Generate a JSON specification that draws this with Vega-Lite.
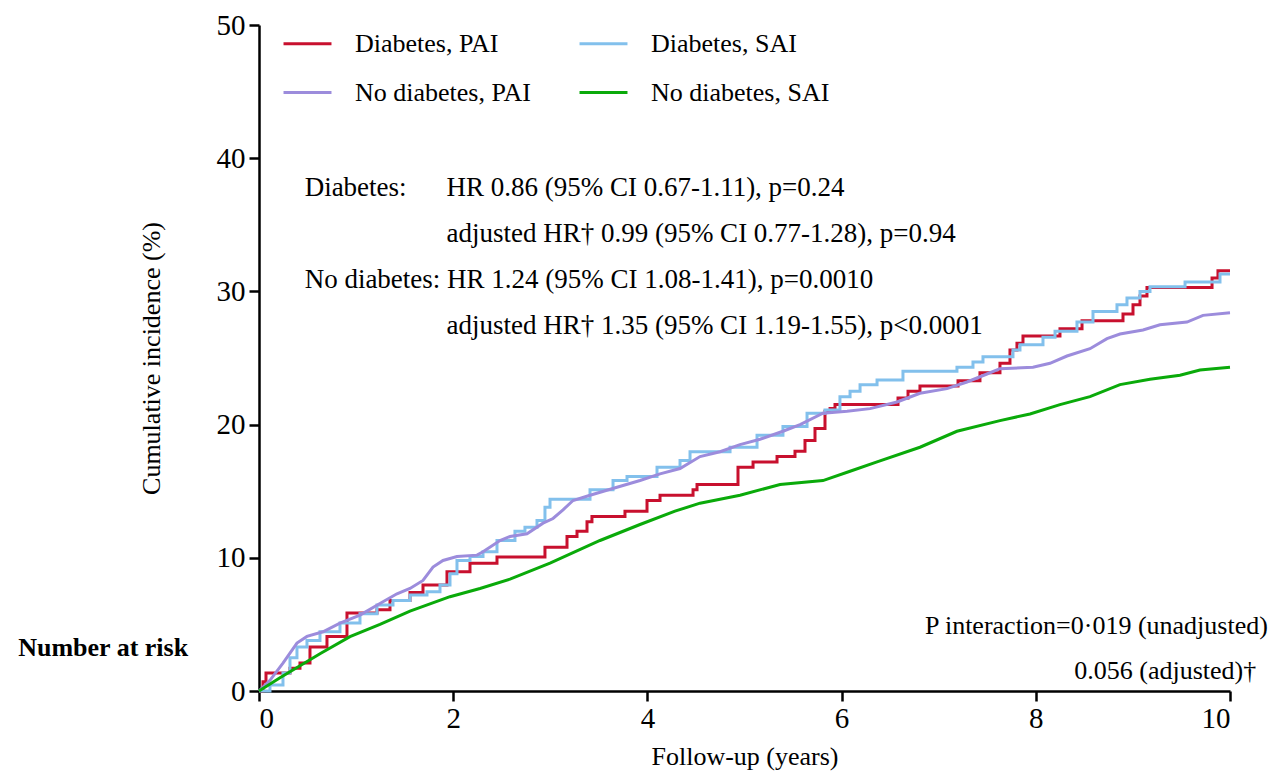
{
  "$schema": "https://vega.github.io/schema/vega-lite/v6.json",
  "width": 971,
  "height": 666,
  "autosize": "none",
  "padding": {"left": 259, "top": 25, "right": 42, "bottom": 81},
  "background": "white",
  "config": {
    "view": {"stroke": null},
    "font": "Liberation Serif",
    "text": {"font": "Liberation Serif"},
    "legend": {"labelFont": "Liberation Serif"},
    "axis": {"grid": false, "domainColor": "black", "tickColor": "black", "labelColor": "black", "titleColor": "black", "labelFont": "Liberation Serif", "titleFont": "Liberation Serif", "domainWidth": 2.5, "tickWidth": 2.5, "tickSize": 10, "labelFontSize": 29, "titleFontSize": 26, "titleFontWeight": "normal"}
  },
  "datasets": {
    "curves": [
      {"g": "Diabetes, PAI", "t": 0, "v": 0}, {"g": "Diabetes, PAI", "t": 0.041, "v": 0.7}, {"g": "Diabetes, PAI", "t": 0.072, "v": 1.35}, {"g": "Diabetes, PAI", "t": 0.319, "v": 1.7}, {"g": "Diabetes, PAI", "t": 0.422, "v": 2.1}, {"g": "Diabetes, PAI", "t": 0.525, "v": 3.3}, {"g": "Diabetes, PAI", "t": 0.7, "v": 4.1}, {"g": "Diabetes, PAI", "t": 0.906, "v": 5.85}, {"g": "Diabetes, PAI", "t": 1.215, "v": 6.1}, {"g": "Diabetes, PAI", "t": 1.349, "v": 6.8}, {"g": "Diabetes, PAI", "t": 1.555, "v": 7.4}, {"g": "Diabetes, PAI", "t": 1.689, "v": 7.96}, {"g": "Diabetes, PAI", "t": 1.936, "v": 8.96}, {"g": "Diabetes, PAI", "t": 2.173, "v": 9.6}, {"g": "Diabetes, PAI", "t": 2.451, "v": 10.06}, {"g": "Diabetes, PAI", "t": 2.945, "v": 10.8}, {"g": "Diabetes, PAI", "t": 3.172, "v": 11.6}, {"g": "Diabetes, PAI", "t": 3.275, "v": 12.0}, {"g": "Diabetes, PAI", "t": 3.378, "v": 12.7}, {"g": "Diabetes, PAI", "t": 3.429, "v": 13.1}, {"g": "Diabetes, PAI", "t": 3.769, "v": 13.5}, {"g": "Diabetes, PAI", "t": 3.996, "v": 14.3}, {"g": "Diabetes, PAI", "t": 4.13, "v": 14.7}, {"g": "Diabetes, PAI", "t": 4.47, "v": 15.1}, {"g": "Diabetes, PAI", "t": 4.511, "v": 15.5}, {"g": "Diabetes, PAI", "t": 4.933, "v": 16.8}, {"g": "Diabetes, PAI", "t": 5.088, "v": 17.2}, {"g": "Diabetes, PAI", "t": 5.335, "v": 17.6}, {"g": "Diabetes, PAI", "t": 5.52, "v": 18.0}, {"g": "Diabetes, PAI", "t": 5.623, "v": 18.8}, {"g": "Diabetes, PAI", "t": 5.726, "v": 19.7}, {"g": "Diabetes, PAI", "t": 5.829, "v": 21.0}, {"g": "Diabetes, PAI", "t": 5.881, "v": 21.2}, {"g": "Diabetes, PAI", "t": 5.932, "v": 21.5}, {"g": "Diabetes, PAI", "t": 6.581, "v": 22.0}, {"g": "Diabetes, PAI", "t": 6.684, "v": 22.5}, {"g": "Diabetes, PAI", "t": 6.807, "v": 22.9}, {"g": "Diabetes, PAI", "t": 7.199, "v": 23.3}, {"g": "Diabetes, PAI", "t": 7.425, "v": 23.9}, {"g": "Diabetes, PAI", "t": 7.631, "v": 24.6}, {"g": "Diabetes, PAI", "t": 7.734, "v": 25.6}, {"g": "Diabetes, PAI", "t": 7.806, "v": 26.1}, {"g": "Diabetes, PAI", "t": 7.868, "v": 26.65}, {"g": "Diabetes, PAI", "t": 8.249, "v": 27.2}, {"g": "Diabetes, PAI", "t": 8.476, "v": 27.8}, {"g": "Diabetes, PAI", "t": 8.898, "v": 28.3}, {"g": "Diabetes, PAI", "t": 9.001, "v": 29.0}, {"g": "Diabetes, PAI", "t": 9.073, "v": 29.65}, {"g": "Diabetes, PAI", "t": 9.145, "v": 30.3}, {"g": "Diabetes, PAI", "t": 9.815, "v": 31.0}, {"g": "Diabetes, PAI", "t": 9.876, "v": 31.55}, {"g": "Diabetes, PAI", "t": 10.0, "v": 31.55},

      {"g": "Diabetes, SAI", "t": 0, "v": 0}, {"g": "Diabetes, SAI", "t": 0.113, "v": 0.45}, {"g": "Diabetes, SAI", "t": 0.247, "v": 1.35}, {"g": "Diabetes, SAI", "t": 0.319, "v": 2.5}, {"g": "Diabetes, SAI", "t": 0.391, "v": 3.3}, {"g": "Diabetes, SAI", "t": 0.494, "v": 3.8}, {"g": "Diabetes, SAI", "t": 0.628, "v": 4.45}, {"g": "Diabetes, SAI", "t": 0.834, "v": 5.1}, {"g": "Diabetes, SAI", "t": 1.04, "v": 5.8}, {"g": "Diabetes, SAI", "t": 1.215, "v": 6.45}, {"g": "Diabetes, SAI", "t": 1.38, "v": 6.8}, {"g": "Diabetes, SAI", "t": 1.555, "v": 7.2}, {"g": "Diabetes, SAI", "t": 1.73, "v": 7.45}, {"g": "Diabetes, SAI", "t": 1.864, "v": 7.96}, {"g": "Diabetes, SAI", "t": 1.967, "v": 8.8}, {"g": "Diabetes, SAI", "t": 2.039, "v": 9.8}, {"g": "Diabetes, SAI", "t": 2.173, "v": 10.1}, {"g": "Diabetes, SAI", "t": 2.307, "v": 10.45}, {"g": "Diabetes, SAI", "t": 2.451, "v": 11.3}, {"g": "Diabetes, SAI", "t": 2.636, "v": 12.0}, {"g": "Diabetes, SAI", "t": 2.739, "v": 12.3}, {"g": "Diabetes, SAI", "t": 2.863, "v": 12.8}, {"g": "Diabetes, SAI", "t": 2.945, "v": 13.8}, {"g": "Diabetes, SAI", "t": 2.997, "v": 14.4}, {"g": "Diabetes, SAI", "t": 3.409, "v": 15.1}, {"g": "Diabetes, SAI", "t": 3.646, "v": 15.8}, {"g": "Diabetes, SAI", "t": 3.79, "v": 16.1}, {"g": "Diabetes, SAI", "t": 4.099, "v": 16.8}, {"g": "Diabetes, SAI", "t": 4.336, "v": 17.3}, {"g": "Diabetes, SAI", "t": 4.439, "v": 17.96}, {"g": "Diabetes, SAI", "t": 4.851, "v": 18.3}, {"g": "Diabetes, SAI", "t": 5.129, "v": 19.2}, {"g": "Diabetes, SAI", "t": 5.396, "v": 19.85}, {"g": "Diabetes, SAI", "t": 5.644, "v": 20.85}, {"g": "Diabetes, SAI", "t": 5.829, "v": 21.1}, {"g": "Diabetes, SAI", "t": 5.983, "v": 22.1}, {"g": "Diabetes, SAI", "t": 6.087, "v": 22.5}, {"g": "Diabetes, SAI", "t": 6.19, "v": 23.0}, {"g": "Diabetes, SAI", "t": 6.365, "v": 23.35}, {"g": "Diabetes, SAI", "t": 6.632, "v": 24.0}, {"g": "Diabetes, SAI", "t": 7.188, "v": 24.3}, {"g": "Diabetes, SAI", "t": 7.353, "v": 24.7}, {"g": "Diabetes, SAI", "t": 7.456, "v": 25.1}, {"g": "Diabetes, SAI", "t": 7.765, "v": 25.6}, {"g": "Diabetes, SAI", "t": 7.837, "v": 26.0}, {"g": "Diabetes, SAI", "t": 8.074, "v": 26.55}, {"g": "Diabetes, SAI", "t": 8.198, "v": 27.0}, {"g": "Diabetes, SAI", "t": 8.424, "v": 27.7}, {"g": "Diabetes, SAI", "t": 8.589, "v": 28.5}, {"g": "Diabetes, SAI", "t": 8.836, "v": 29.0}, {"g": "Diabetes, SAI", "t": 8.939, "v": 29.5}, {"g": "Diabetes, SAI", "t": 9.073, "v": 30.0}, {"g": "Diabetes, SAI", "t": 9.176, "v": 30.35}, {"g": "Diabetes, SAI", "t": 9.537, "v": 30.7}, {"g": "Diabetes, SAI", "t": 9.897, "v": 31.3}, {"g": "Diabetes, SAI", "t": 10.0, "v": 31.3},

      {"g": "No diabetes, PAI", "t": 0, "v": 0}, {"g": "No diabetes, PAI", "t": 0.113, "v": 0.8}, {"g": "No diabetes, PAI", "t": 0.247, "v": 2.1}, {"g": "No diabetes, PAI", "t": 0.391, "v": 3.6}, {"g": "No diabetes, PAI", "t": 0.494, "v": 4.1}, {"g": "No diabetes, PAI", "t": 0.659, "v": 4.45}, {"g": "No diabetes, PAI", "t": 0.834, "v": 5.1}, {"g": "No diabetes, PAI", "t": 1.04, "v": 5.7}, {"g": "No diabetes, PAI", "t": 1.277, "v": 6.7}, {"g": "No diabetes, PAI", "t": 1.421, "v": 7.3}, {"g": "No diabetes, PAI", "t": 1.555, "v": 7.7}, {"g": "No diabetes, PAI", "t": 1.689, "v": 8.3}, {"g": "No diabetes, PAI", "t": 1.792, "v": 9.3}, {"g": "No diabetes, PAI", "t": 1.895, "v": 9.8}, {"g": "No diabetes, PAI", "t": 2.039, "v": 10.1}, {"g": "No diabetes, PAI", "t": 2.245, "v": 10.2}, {"g": "No diabetes, PAI", "t": 2.307, "v": 10.45}, {"g": "No diabetes, PAI", "t": 2.482, "v": 11.3}, {"g": "No diabetes, PAI", "t": 2.585, "v": 11.6}, {"g": "No diabetes, PAI", "t": 2.76, "v": 11.8}, {"g": "No diabetes, PAI", "t": 2.925, "v": 12.6}, {"g": "No diabetes, PAI", "t": 3.028, "v": 12.95}, {"g": "No diabetes, PAI", "t": 3.131, "v": 13.6}, {"g": "No diabetes, PAI", "t": 3.234, "v": 14.3}, {"g": "No diabetes, PAI", "t": 3.409, "v": 14.7}, {"g": "No diabetes, PAI", "t": 3.687, "v": 15.3}, {"g": "No diabetes, PAI", "t": 3.924, "v": 15.8}, {"g": "No diabetes, PAI", "t": 4.13, "v": 16.3}, {"g": "No diabetes, PAI", "t": 4.336, "v": 16.7}, {"g": "No diabetes, PAI", "t": 4.542, "v": 17.6}, {"g": "No diabetes, PAI", "t": 4.748, "v": 17.96}, {"g": "No diabetes, PAI", "t": 4.954, "v": 18.5}, {"g": "No diabetes, PAI", "t": 5.16, "v": 18.9}, {"g": "No diabetes, PAI", "t": 5.396, "v": 19.5}, {"g": "No diabetes, PAI", "t": 5.572, "v": 20.0}, {"g": "No diabetes, PAI", "t": 5.808, "v": 20.85}, {"g": "No diabetes, PAI", "t": 6.056, "v": 21.0}, {"g": "No diabetes, PAI", "t": 6.293, "v": 21.2}, {"g": "No diabetes, PAI", "t": 6.571, "v": 21.7}, {"g": "No diabetes, PAI", "t": 6.807, "v": 22.35}, {"g": "No diabetes, PAI", "t": 7.085, "v": 22.7}, {"g": "No diabetes, PAI", "t": 7.291, "v": 23.2}, {"g": "No diabetes, PAI", "t": 7.497, "v": 23.8}, {"g": "No diabetes, PAI", "t": 7.631, "v": 24.2}, {"g": "No diabetes, PAI", "t": 7.971, "v": 24.3}, {"g": "No diabetes, PAI", "t": 8.146, "v": 24.6}, {"g": "No diabetes, PAI", "t": 8.321, "v": 25.15}, {"g": "No diabetes, PAI", "t": 8.558, "v": 25.7}, {"g": "No diabetes, PAI", "t": 8.733, "v": 26.45}, {"g": "No diabetes, PAI", "t": 8.867, "v": 26.8}, {"g": "No diabetes, PAI", "t": 9.104, "v": 27.1}, {"g": "No diabetes, PAI", "t": 9.279, "v": 27.5}, {"g": "No diabetes, PAI", "t": 9.557, "v": 27.7}, {"g": "No diabetes, PAI", "t": 9.722, "v": 28.2}, {"g": "No diabetes, PAI", "t": 10.0, "v": 28.4},

      {"g": "No diabetes, SAI", "t": 0, "v": 0}, {"g": "No diabetes, SAI", "t": 0.216, "v": 1.0}, {"g": "No diabetes, SAI", "t": 0.422, "v": 1.9}, {"g": "No diabetes, SAI", "t": 0.628, "v": 2.8}, {"g": "No diabetes, SAI", "t": 0.937, "v": 4.08}, {"g": "No diabetes, SAI", "t": 1.246, "v": 5.0}, {"g": "No diabetes, SAI", "t": 1.555, "v": 6.0}, {"g": "No diabetes, SAI", "t": 1.967, "v": 7.08}, {"g": "No diabetes, SAI", "t": 2.276, "v": 7.7}, {"g": "No diabetes, SAI", "t": 2.585, "v": 8.4}, {"g": "No diabetes, SAI", "t": 2.997, "v": 9.6}, {"g": "No diabetes, SAI", "t": 3.512, "v": 11.3}, {"g": "No diabetes, SAI", "t": 3.924, "v": 12.5}, {"g": "No diabetes, SAI", "t": 4.284, "v": 13.5}, {"g": "No diabetes, SAI", "t": 4.542, "v": 14.1}, {"g": "No diabetes, SAI", "t": 4.954, "v": 14.7}, {"g": "No diabetes, SAI", "t": 5.366, "v": 15.5}, {"g": "No diabetes, SAI", "t": 5.808, "v": 15.8}, {"g": "No diabetes, SAI", "t": 6.087, "v": 16.5}, {"g": "No diabetes, SAI", "t": 6.365, "v": 17.2}, {"g": "No diabetes, SAI", "t": 6.807, "v": 18.3}, {"g": "No diabetes, SAI", "t": 7.188, "v": 19.5}, {"g": "No diabetes, SAI", "t": 7.631, "v": 20.3}, {"g": "No diabetes, SAI", "t": 7.94, "v": 20.8}, {"g": "No diabetes, SAI", "t": 8.249, "v": 21.5}, {"g": "No diabetes, SAI", "t": 8.558, "v": 22.1}, {"g": "No diabetes, SAI", "t": 8.867, "v": 23.0}, {"g": "No diabetes, SAI", "t": 9.176, "v": 23.4}, {"g": "No diabetes, SAI", "t": 9.485, "v": 23.7}, {"g": "No diabetes, SAI", "t": 9.691, "v": 24.1}, {"g": "No diabetes, SAI", "t": 10.0, "v": 24.3}
    ],
    "notesLeft": [
      {"t": 0.47, "v": 37.8, "label": "Diabetes:"},
      {"t": 1.93, "v": 37.8, "label": "HR 0.86 (95% CI 0.67-1.11), p=0.24"},
      {"t": 1.93, "v": 34.3, "label": "adjusted HR† 0.99 (95% CI 0.77-1.28), p=0.94"},
      {"t": 0.47, "v": 30.85, "label": "No diabetes: HR 1.24 (95% CI 1.08-1.41), p=0.0010"},
      {"t": 1.93, "v": 27.4, "label": "adjusted HR† 1.35 (95% CI 1.19-1.55), p<0.0001"}
    ],
    "notesRight": [
      {"t": 10.39, "v": 4.85, "label": "P interaction=0·019 (unadjusted)"},
      {"t": 10.27, "v": 1.5, "label": "0.056 (adjusted)†"}
    ],
    "notesBold": [
      {"t": -2.48, "v": 3.2, "label": "Number at risk"}
    ]
  },
  "layer": [
    {
      "data": {"name": "curves"},
      "transform": [{"filter": "indexof(datum.g, 'No diabetes') < 0"}],
      "mark": {"type": "line", "interpolate": "step-after", "strokeWidth": 3, "clip": false},
      "encoding": {
        "x": {"field": "t", "type": "quantitative", "scale": {"domain": [0, 10], "nice": false, "zero": false}, "axis": {"values": [0, 2, 4, 6, 8, 10], "format": "d", "title": "Follow-up (years)", "labelPadding": 3, "titlePadding": 10}},
        "y": {"field": "v", "type": "quantitative", "scale": {"domain": [0, 50], "nice": false}, "axis": {"values": [0, 10, 20, 30, 40, 50], "format": "d", "title": "Cumulative incidence (%)", "labelPadding": 4, "titlePadding": 52}},
        "color": {"field": "g", "type": "nominal", "scale": {"domain": ["Diabetes, PAI", "Diabetes, SAI", "No diabetes, PAI", "No diabetes, SAI"], "range": ["#C8102E", "#82C0EC", "#9C8CDC", "#0AAA0A"]},
          "legend": {"title": null, "orient": "none", "direction": "horizontal", "legendX": 23, "legendY": -7, "columns": 2, "columnPadding": 42, "rowPadding": 10, "symbolType": "stroke", "symbolSize": 2300, "symbolStrokeWidth": 3, "labelFont": "Liberation Serif", "labelFontSize": 26, "labelColor": "black", "labelOffset": 22, "labelLimit": 400}}
      }
    },
    {
      "data": {"name": "curves"},
      "transform": [{"filter": "indexof(datum.g, 'No diabetes') >= 0"}],
      "mark": {"type": "line", "interpolate": "linear", "strokeWidth": 3, "clip": false},
      "encoding": {
        "x": {"field": "t", "type": "quantitative"},
        "y": {"field": "v", "type": "quantitative"},
        "color": {"field": "g", "type": "nominal"}
      }
    },
    {
      "data": {"name": "notesLeft"},
      "mark": {"type": "text", "align": "left", "baseline": "middle", "font": "Liberation Serif", "fontSize": 27, "color": "black"},
      "encoding": {"x": {"field": "t", "type": "quantitative"}, "y": {"field": "v", "type": "quantitative"}, "text": {"field": "label"}}
    },
    {
      "data": {"name": "notesRight"},
      "mark": {"type": "text", "align": "right", "baseline": "middle", "font": "Liberation Serif", "fontSize": 26, "color": "black"},
      "encoding": {"x": {"field": "t", "type": "quantitative"}, "y": {"field": "v", "type": "quantitative"}, "text": {"field": "label"}}
    },
    {
      "data": {"name": "notesBold"},
      "mark": {"type": "text", "align": "left", "baseline": "middle", "font": "Liberation Serif", "fontSize": 26, "fontWeight": "bold", "color": "black"},
      "encoding": {"x": {"field": "t", "type": "quantitative"}, "y": {"field": "v", "type": "quantitative"}, "text": {"field": "label"}}
    }
  ]
}
